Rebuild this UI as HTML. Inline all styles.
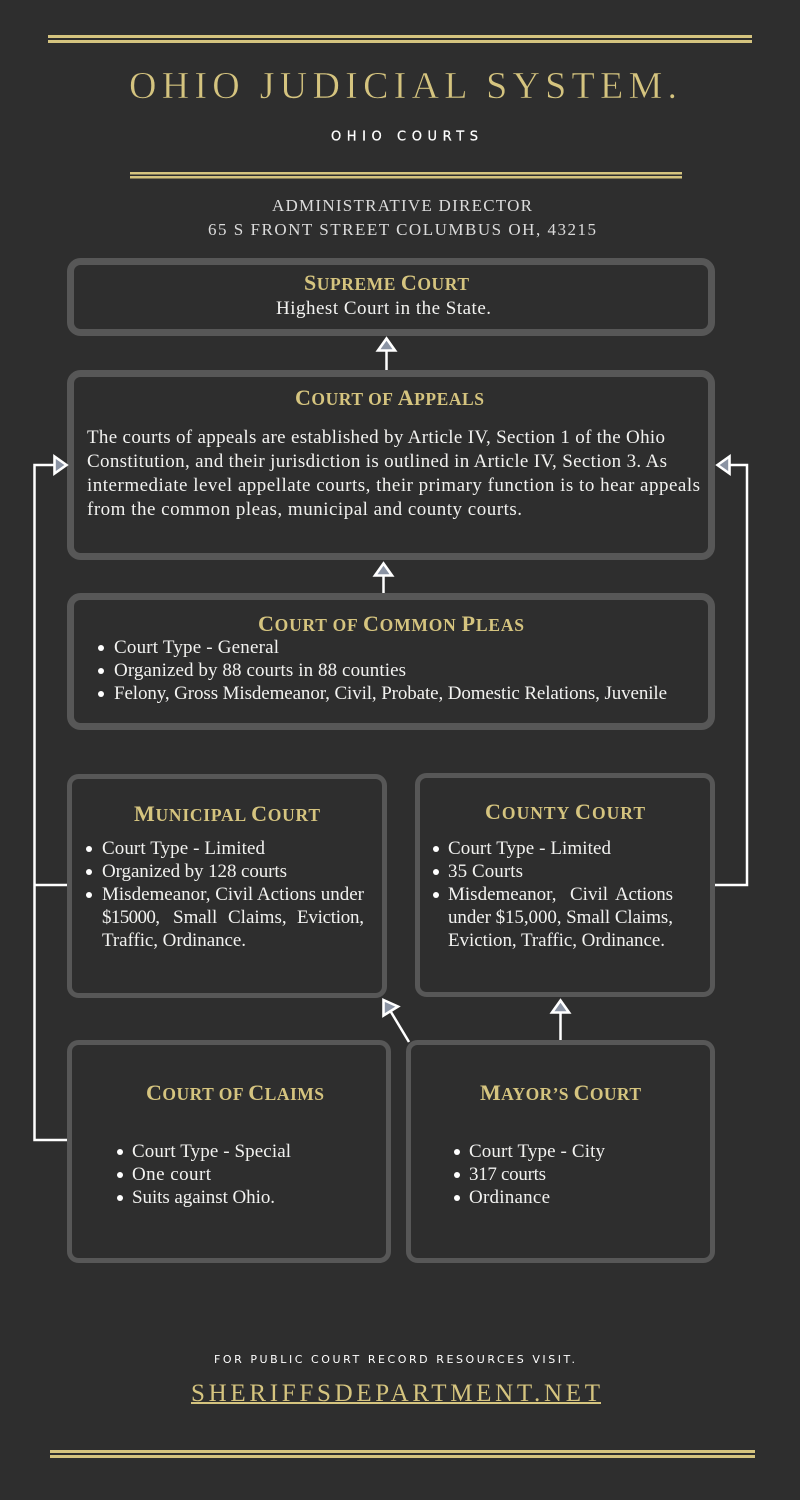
<!DOCTYPE html>
<html><head><meta charset="utf-8"><title>Ohio Judicial System</title>
<style>
html,body{margin:0;padding:0;background:#2e2e2e}
svg{display:block}
.t{font-family:"Liberation Serif",serif;font-size:19px;fill:#f2f2f0}
.h{font-family:"Liberation Serif",serif;font-size:17.5px;font-weight:bold;text-transform:uppercase;fill:#d5c47f}
.h tspan{font-size:22px}
.box{fill:none;stroke:#575757}
.a{fill:#8a93a3;stroke:#fff;stroke-width:2.6;stroke-linejoin:miter}
.l{fill:none;stroke:#fff;stroke-width:2.5}
</style></head><body>
<svg width="800" height="1500" viewBox="0 0 800 1500" xmlns="http://www.w3.org/2000/svg">
<rect width="800" height="1500" fill="#2e2e2e"/>
<g fill="#d5c47f">
<rect x="48" y="35" width="704" height="3"/><rect x="48" y="40" width="704" height="3"/>
<rect x="130" y="172" width="552" height="2.5"/><rect x="130" y="176" width="552" height="2.5"/>
<rect x="50" y="1450" width="705" height="3"/><rect x="50" y="1455" width="705" height="3"/>
</g>
<text x="129" y="98" font-family="'Liberation Serif',serif" font-size="38" fill="#d5c47f" stroke="#2e2e2e" stroke-width="0.5" textLength="548" lengthAdjust="spacing">OHIO JUDICIAL SYSTEM.</text>
<text x="331" y="140.500" font-family="'DejaVu Sans',sans-serif" font-size="13" fill="#fff" stroke="#fff" stroke-width="0.25" textLength="147" lengthAdjust="spacing">OHIO COURTS</text>
<text x="272" y="211" font-family="'Liberation Serif',serif" font-size="17" fill="#dcdcdc" textLength="260" lengthAdjust="spacing">ADMINISTRATIVE DIRECTOR</text>
<text x="208" y="235" font-family="'Liberation Serif',serif" font-size="17" fill="#dcdcdc" textLength="388" lengthAdjust="spacing">65 S FRONT STREET COLUMBUS OH, 43215</text>

<g class="box" stroke-width="7">
<rect x="70.500" y="261.500" width="641" height="71" rx="10"/>
<rect x="70.500" y="373.500" width="641" height="183" rx="10"/>
<rect x="70.500" y="596.500" width="641" height="130" rx="10"/>
</g>
<g class="box" stroke-width="5">
<rect x="69.500" y="776.500" width="315" height="219" rx="9"/>
<rect x="417.500" y="775.500" width="295" height="219" rx="9"/>
<rect x="69.500" y="1042.500" width="319" height="218" rx="9"/>
<rect x="408.500" y="1042.500" width="304" height="218" rx="9"/>
</g>

<path class="l" d="M386.500 351V370"/>
<path class="a" d="M386.500 338.500L378 350.500H395Z"/>
<path class="l" d="M383.500 575V593"/>
<path class="a" d="M383.500 563.500L375 575.500H392Z"/>
<path class="l" d="M560.500 1012V1040"/>
<path class="a" d="M560.500 1000.500L552 1012.500H569Z"/>
<path class="l" d="M409 1042L391 1012"/>
<path class="a" d="M383.500 1000L398 1006.500L383.500 1015.500Z"/>
<path class="l" d="M54 465H34.500V1140H67M34.500 885H67"/>
<path class="a" d="M66.500 465L54.500 456.500V473.500Z"/>
<path class="l" d="M730 465H747V885H715"/>
<path class="a" d="M717.500 465L729.500 456.500V473.500Z"/>

<text class="h" x="304" y="290" textLength="165" lengthAdjust="spacing"><tspan>S</tspan>upreme <tspan>C</tspan>ourt</text>
<text class="t" x="276" y="314" textLength="215" lengthAdjust="spacing">Highest Court in the State.</text>

<text class="h" x="295" y="405" textLength="189" lengthAdjust="spacing"><tspan>C</tspan>ourt of <tspan>A</tspan>ppeals</text>
<text class="t" x="87" y="443" textLength="578" lengthAdjust="spacing">The courts of appeals are established by Article IV, Section 1 of the Ohio</text>
<text class="t" x="87" y="467" textLength="580" lengthAdjust="spacing">Constitution, and their jurisdiction is outlined in Article IV, Section 3. As</text>
<text class="t" x="87" y="491" textLength="613" lengthAdjust="spacing">intermediate level appellate courts, their primary function is to hear appeals</text>
<text class="t" x="87" y="515" textLength="435" lengthAdjust="spacing">from the common pleas, municipal and county courts.</text>

<text class="h" x="258" y="631" textLength="266" lengthAdjust="spacing"><tspan>C</tspan>ourt of <tspan>C</tspan>ommon <tspan>P</tspan>leas</text>
<g fill="#fff">
<circle cx="101" cy="648" r="3"/><circle cx="101" cy="671" r="3"/><circle cx="101" cy="694" r="3"/>
<circle cx="89" cy="849" r="3"/><circle cx="89" cy="872" r="3"/><circle cx="89" cy="895" r="3"/>
<circle cx="436" cy="849" r="3"/><circle cx="436" cy="872" r="3"/><circle cx="436" cy="895" r="3"/>
<circle cx="120" cy="1152" r="3"/><circle cx="120" cy="1175" r="3"/><circle cx="120" cy="1198" r="3"/>
<circle cx="457" cy="1152" r="3"/><circle cx="457" cy="1175" r="3"/><circle cx="457" cy="1198" r="3"/>
</g>
<text class="t" x="114" y="653" textLength="165" lengthAdjust="spacing">Court Type - General</text>
<text class="t" x="114" y="676" textLength="292" lengthAdjust="spacing">Organized by 88 courts in 88 counties</text>
<text class="t" x="114" y="699" textLength="553" lengthAdjust="spacing">Felony, Gross Misdemeanor, Civil, Probate, Domestic Relations, Juvenile</text>

<text class="h" x="134" y="821" textLength="186" lengthAdjust="spacing"><tspan>M</tspan>unicipal <tspan>C</tspan>ourt</text>
<text class="t" x="102" y="854" textLength="163" lengthAdjust="spacing">Court Type - Limited</text>
<text class="t" x="102" y="877" textLength="185" lengthAdjust="spacing">Organized by 128 courts</text>
<text class="t" x="102" y="900" textLength="262" lengthAdjust="spacing">Misdemeanor, Civil Actions under</text>
<text class="t" x="102" y="923" textLength="58" lengthAdjust="spacing">$15000,</text>
<text class="t" x="173" y="923">Small</text>
<text class="t" x="228" y="923">Claims,</text>
<text class="t" x="297" y="923" textLength="67" lengthAdjust="spacing">Eviction,</text>
<text class="t" x="102" y="946" textLength="144" lengthAdjust="spacing">Traffic, Ordinance.</text>

<text class="h" x="485" y="819" textLength="160" lengthAdjust="spacing"><tspan>C</tspan>ounty <tspan>C</tspan>ourt</text>
<text class="t" x="448" y="854" textLength="163" lengthAdjust="spacing">Court Type - Limited</text>
<text class="t" x="448" y="877" textLength="75" lengthAdjust="spacing">35 Courts</text>
<text class="t" x="448" y="900">Misdemeanor,</text>
<text class="t" x="570" y="900">Civil</text>
<text class="t" x="615" y="900" textLength="58" lengthAdjust="spacing">Actions</text>
<text class="t" x="448" y="923" textLength="225" lengthAdjust="spacing">under $15,000, Small Claims,</text>
<text class="t" x="448" y="946" textLength="217" lengthAdjust="spacing">Eviction, Traffic, Ordinance.</text>

<text class="h" x="146" y="1100" textLength="178" lengthAdjust="spacing"><tspan>C</tspan>ourt of <tspan>C</tspan>laims</text>
<text class="t" x="132" y="1157" textLength="159" lengthAdjust="spacing">Court Type - Special</text>
<text class="t" x="132" y="1180" textLength="79" lengthAdjust="spacing">One court</text>
<text class="t" x="132" y="1203" textLength="143" lengthAdjust="spacing">Suits against Ohio.</text>

<text class="h" x="480" y="1100" textLength="161" lengthAdjust="spacing"><tspan>M</tspan>ayor’s <tspan>C</tspan>ourt</text>
<text class="t" x="469" y="1157" textLength="136" lengthAdjust="spacing">Court Type - City</text>
<text class="t" x="469" y="1180" textLength="77" lengthAdjust="spacing">317 courts</text>
<text class="t" x="469" y="1203" textLength="81" lengthAdjust="spacing">Ordinance</text>

<text x="214" y="1363" font-family="'DejaVu Sans',sans-serif" font-size="11" fill="#fff" textLength="361" lengthAdjust="spacing">FOR PUBLIC COURT RECORD RESOURCES VISIT.</text>
<text x="191" y="1401" font-family="'Liberation Serif',serif" font-size="25" fill="#d5c47f" textLength="409" lengthAdjust="spacing">SHERIFFSDEPARTMENT.NET</text>
<rect x="191" y="1402" width="410" height="2" fill="#d5c47f"/>
</svg>
</body></html>
